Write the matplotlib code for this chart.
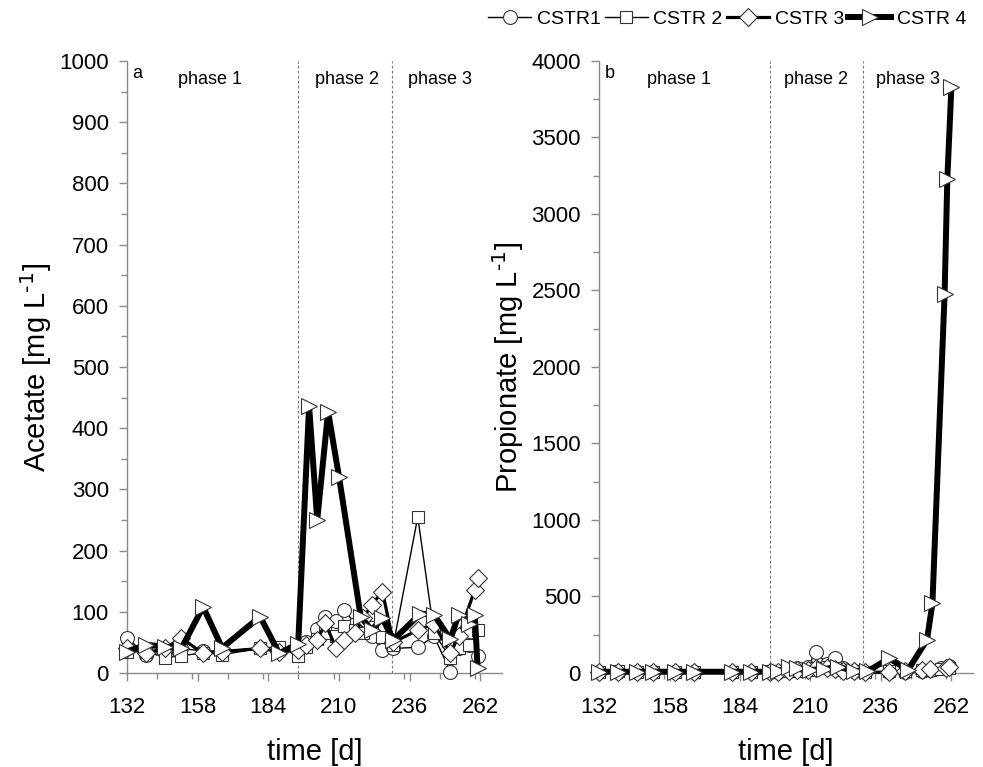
import matplotlib
matplotlib.use('Agg')
import matplotlib.pyplot as plt
from matplotlib.ticker import MultipleLocator
import matplotlib.transforms as mtransforms

plt.rcParams['font.family'] = ['Liberation Sans', 'DejaVu Sans']
plt.rcParams['mathtext.default'] = 'regular'

# sampling days
days = [132, 139, 146, 152, 160, 167, 181, 188, 195, 198, 202, 205, 209, 212,
        216, 219, 222, 226, 230, 239, 245, 251, 254, 258, 261]
days3 = [132, 139, 146, 152, 160, 167, 181, 188, 195, 198, 202, 205, 209, 212,
         216, 219, 222, 226, 230, 239, 245, 251, 254, 260, 261]
days4_ac = [132, 139, 146, 152, 160, 167, 181, 188, 195, 199, 202, 206, 210,
            218, 222, 226, 230, 240, 245, 251, 254, 258, 260, 261]
days4_pr = [132, 139, 146, 152, 160, 167, 181, 188, 195, 198, 202, 205, 210,
            215, 220, 226, 231, 239, 246, 253, 255, 259.5, 260.5, 262]

# acetate [mg/L]
ac1 = [57, 30, 35, 40, 36, 36, 40, 36, 40, 50, 72, 92, 85, 103, 80, 70, 60, 38,
       40, 42, 60, 2, 40, 45, 28]
ac2 = [35, 35, 25, 28, 33, 30, 40, 43, 27, 43, 55, 65, 60, 76, 70, 65, 75, 59,
       46, 255, 65, 25, 40, 45, 70]
ac3 = [40, 33, 40, 57, 32, 35, 40, 35, 38, 45, 54, 81, 40, 54, 65, 90, 111, 133,
       50, 70, 80, 32, 60, 136, 155]
ac4 = [35, 46, 43, 40, 108, 41, 92, 32, 48, 436, 250, 427, 321, 92, 70, 89, 54,
       97, 95, 55, 95, 80, 95, 8]

# propionate [mg/L]
pr1 = [8, 5, 5, 5, 5, 5, 5, 5, 5, 5, 10, 30, 40, 139, 60, 96, 30, 10, 5, 5, 5,
       10, 20, 30, 45]
pr2 = [5, 10, 5, 5, 5, 5, 5, 5, 10, 10, 10, 15, 20, 30, 40, 35, 20, 10, 5, 10,
       10, 20, 20, 25, 35]
pr3 = [5, 5, 5, 5, 5, 5, 5, 5, 5, 5, 10, 20, 20, 30, 30, 25, 15, 10, 5, 5, 10,
       20, 25, 30, 40]
pr4 = [8, 8, 8, 8, 8, 8, 8, 8, 8, 10, 41, 30, 20, 25, 41, 15, 10, 96, 20, 216,
       455, 2480, 3230, 3830]

labels = ['CSTR1', 'CSTR 2', 'CSTR 3', 'CSTR 4']
phase_bounds = [195, 229.5]
xticks = [132, 158, 184, 210, 236, 262]

styles = [
    dict(marker='o', lw=1.0, ms=10),
    dict(marker='s', lw=1.0, ms=9),
    dict(marker='D', lw=2.3, ms=9),
    dict(marker='>', lw=4.3, ms=11),
]

fig = plt.figure(figsize=(9.83, 7.67), dpi=100)
ax1 = fig.add_axes([0.1292, 0.1226, 0.3815, 0.7979])
ax2 = fig.add_axes([0.6094, 0.1226, 0.3805, 0.7979])

panels = [
    (ax1, [(days, ac1), (days, ac2), (days3, ac3), (days4_ac, ac4)], 1000, 100, 50,
     r'Acetate [mg L$^{\text{-1}}$]', 'a', [162.5, 212.8, 247]),
    (ax2, [(days, pr1), (days, pr2), (days3, pr3), (days4_pr, pr4)], 4000, 500, 250,
     r'Propionate [mg L$^{\text{-1}}$]', 'b', [161.4, 212, 246]),
]

handles = []
for ax, series, ymax, ymaj, ymin, ylab, tag, phase_x in panels:
    for xb in phase_bounds:
        ax.axvline(xb, color='#777777', lw=0.8, ls=(0, (2.5, 2)), zorder=1)
    hs = []
    for (x, y), st, lab in zip(series, styles, labels):
        h, = ax.plot(x, y, color='black', lw=st['lw'], marker=st['marker'],
                     ms=st['ms'], mfc='white', mec='#333333', mew=0.8,
                     clip_on=False, label=lab, zorder=3)
        hs.append(h)
    handles = hs
    ax.set_xlim(132, 270)
    ax.set_ylim(0, ymax)
    ax.set_xticks(xticks)
    ax.xaxis.set_minor_locator(MultipleLocator(13))
    ax.yaxis.set_major_locator(MultipleLocator(ymaj))
    ax.yaxis.set_minor_locator(MultipleLocator(ymin))
    for s in ['top', 'right']:
        ax.spines[s].set_visible(False)
    for s in ['left', 'bottom']:
        ax.spines[s].set_color('#8a8a8a')
        ax.spines[s].set_linewidth(1.0)
    ax.tick_params(which='both', direction='out', color='#8a8a8a', labelsize=16,
                   width=1.0)
    ax.tick_params(which='major', length=6)
    ax.tick_params(which='minor', length=4)
    ax.tick_params(axis='x', which='major', pad=11)
    ax.tick_params(axis='y', which='major', pad=7)
    ax.set_xlabel('time [d]', fontsize=21, labelpad=15)
    ax.set_ylabel(ylab, fontsize=21, labelpad=4)
    ax.text(0.015, 0.98, tag, transform=ax.transAxes, fontsize=13,
            ha='left', va='center')
    trans = mtransforms.blended_transform_factory(ax.transData, ax.transAxes)
    for i, px in enumerate(phase_x):
        ax.text(px, 0.97, 'phase %d' % (i + 1), transform=trans, fontsize=13,
                ha='center', va='center')

fig.legend(handles, labels, loc='center right', bbox_to_anchor=(0.983, 0.975),
           ncol=4, frameon=False, fontsize=14, handlelength=2.2,
           handletextpad=0.3, columnspacing=0.2, numpoints=1,
           borderaxespad=0, borderpad=0)

fig.savefig('out.png', dpi=100)
